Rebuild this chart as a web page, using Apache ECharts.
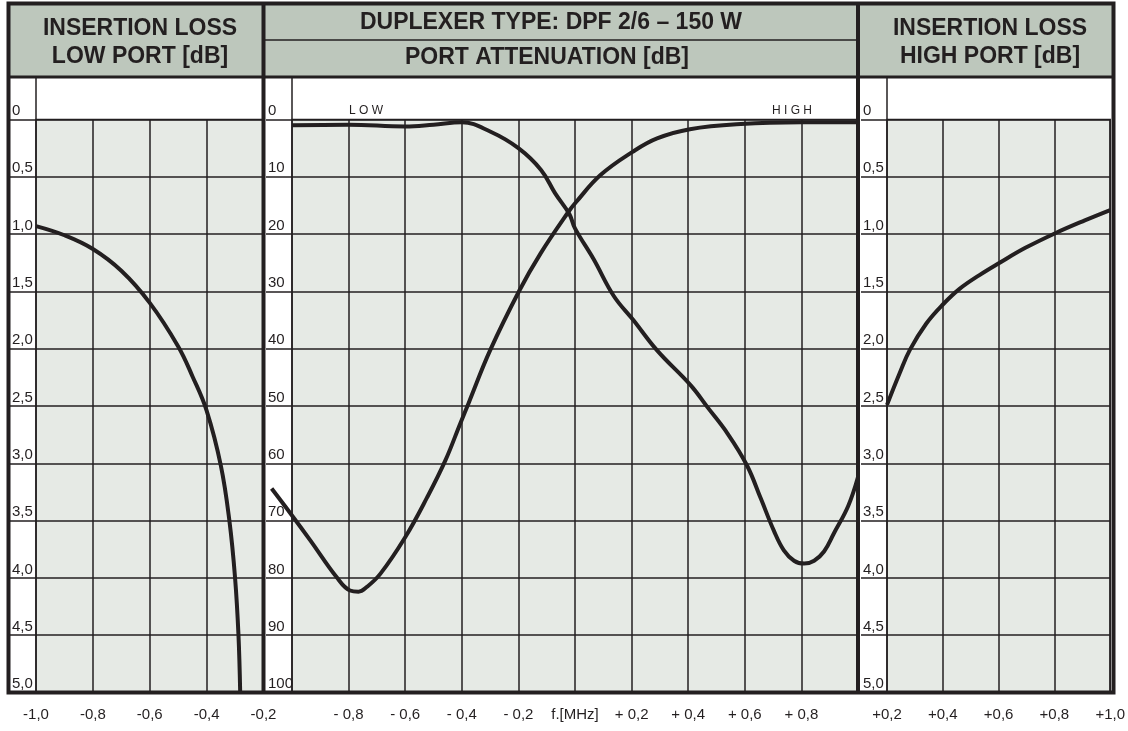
<!DOCTYPE html>
<html>
<head>
<meta charset="utf-8">
<title>Duplexer DPF 2/6 - 150 W</title>
<script src="https://cdn.jsdelivr.net/npm/echarts@6.0.0/dist/echarts.min.js"></script>
<style>
  html, body { margin: 0; padding: 0; background: #fff; }
  #chart { width: 1128px; height: 731px; }
</style>
</head>
<body>
<div id="chart"></div>
<script>
// frequency offset in MHz, level in dB
var lowLossFreq = [-1.0, -0.9, -0.8, -0.7, -0.6, -0.5, -0.45, -0.4, -0.35, -0.32, -0.30, -0.288, -0.282]
var lowLossDb = [0.93, 1.01, 1.13, 1.32, 1.6, 1.98, 2.24, 2.54, 3.02, 3.5, 4.0, 4.5, 5.0]

var lowAttFreq = [-1.0, -0.8, -0.6, -0.5, -0.4, -0.3, -0.2, -0.12, -0.07, -0.02, 0.0, 0.066, 0.137, 0.206, 0.29, 0.409, 0.468, 0.539, 0.607, 0.657, 0.703, 0.738, 0.774, 0.81, 0.845, 0.88, 0.915, 0.965, 1.0]
var lowAttDb = [1.0, 0.9, 1.2, 0.9, 0.5, 2.1, 5.0, 8.8, 12.9, 16.5, 19.0, 24.4, 30.8, 35.0, 40.3, 46.4, 50.2, 54.8, 60.3, 66.2, 71.8, 75.2, 77.0, 77.5, 77.0, 75.4, 72.2, 67.5, 62.4]

// the high curve starts a little left of -1,0 (over the label column)
var highAttFreq = [-1.072, -1.0, -0.936, -0.842, -0.795, -0.765, -0.736, -0.688, -0.6, -0.523, -0.458, -0.405, -0.376, -0.3, -0.196, -0.122, -0.023, 0.004, 0.09, 0.205, 0.29, 0.406, 0.586, 0.8, 1.0]
var highAttDb = [64.4, 69.1, 73.4, 79.9, 82.2, 82.4, 81.6, 79.3, 72.9, 66.0, 59.5, 53.0, 49.5, 40.3, 29.8, 23.4, 16.1, 14.4, 9.7, 5.6, 3.3, 1.7, 0.8, 0.5, 0.5]

var highLossFreq = [0.2, 0.246, 0.282, 0.341, 0.402, 0.459, 0.53, 0.604, 0.696, 0.805, 0.909, 1.0]
var highLossDb = [2.49, 2.21, 2.01, 1.78, 1.61, 1.48, 1.36, 1.25, 1.12, 0.99, 0.88, 0.79]

var headerTitles = ['INSERTION LOSS', 'LOW PORT [dB]', 'DUPLEXER TYPE: DPF 2/6 \u2013 150 W', 'PORT ATTENUATION [dB]', 'INSERTION LOSS', 'HIGH PORT [dB]']

var ink = '#231f20'
var headBg = '#bdc7bc'
var paper = '#e6eae5'
var labelFont = 'Liberation Sans'

function zip(xs, ys) {
    return xs.map(function (x, i) { return [x, ys[i]] })
}

function comma(v) {
    return Math.abs(v).toFixed(1).replace('.', ',')
}

function lossLabel(v) {
    return v === 0 ? '0' : comma(v)
}

var gridTop = 119.5
var gridH = 573
var midLeft = 292, midWidth = 566, midColLeft = 266
var grids = [
    {left: 36, top: gridTop, width: 227.5, height: gridH},
    {left: midLeft, top: gridTop, width: midWidth, height: gridH},
    {left: 887, top: gridTop, width: 226, height: gridH}
]
// hidden overlay for the middle panel, widened over its label column
var overlayMin = -1 - (midLeft - midColLeft) / (midWidth / 2)

function xAxisFor(idx, min, max, formatter) {
    return {
        gridIndex: idx, type: 'value', min: min, max: max, interval: 0.2,
        axisLine: {show: false, onZero: false}, axisTick: {show: false},
        axisLabel: {margin: 15, fontSize: 15, color: ink, fontFamily: labelFont, formatter: formatter},
        splitLine: {show: true, lineStyle: {color: ink, width: 1.5}}
    }
}

function yAxisFor(idx, max, interval, formatter) {
    return {
        gridIndex: idx, type: 'value', inverse: true, min: 0, max: max, interval: interval,
        axisLine: {show: false, onZero: false},
        axisTick: {show: true, length: 26, lineStyle: {color: ink, width: 1.5}},
        axisLabel: {margin: 24, align: 'left', verticalAlign: 'bottom', padding: [0, 0, 1, 0],
            fontSize: 15, color: ink, fontFamily: labelFont, formatter: formatter},
        splitLine: {show: true, lineStyle: {color: ink, width: 1.5}}
    }
}

function curve(xi, data) {
    return {
        type: 'line', xAxisIndex: xi, yAxisIndex: xi, data: data,
        symbol: 'none', smooth: 0.4,
        lineStyle: {color: ink, width: 4}, z: 5
    }
}

function hLine(x1, x2, y, w) {
    return {type: 'line', shape: {x1: x1, y1: y, x2: x2, y2: y}, style: {stroke: ink, lineWidth: w}, z: 100}
}
function vLine(x, y1, y2, w) {
    return {type: 'line', shape: {x1: x, y1: y1, x2: x, y2: y2}, style: {stroke: ink, lineWidth: w}, z: 100}
}
function title(text, x, y) {
    return {type: 'text', x: x, y: y, z: 101,
        style: {text: text, fill: ink, font: 'bold 23px "Liberation Sans", Arial, sans-serif', align: 'center', verticalAlign: 'middle'}}
}

// sheet frame
var frameL = 8.5, frameR = 1113.5, frameT = 3.5, frameB = 692.5
var div1 = 263.5, div2 = 858, headBottom = 77

var option = {
    animation: false,
    backgroundColor: '#fff',
    grid: grids.map(function (g) {
        return Object.assign({show: true, backgroundColor: paper, borderColor: ink, borderWidth: 1.5}, g)
    }).concat([{left: midColLeft, top: gridTop, width: midWidth + midLeft - midColLeft, height: gridH}]),
    xAxis: [
        xAxisFor(0, -1.0, -0.2, function (v) { return '-' + comma(v) }),
        xAxisFor(1, -1.0, 1.0, function (v) {
            if (Math.abs(v) < 1e-6) return 'f.[MHz]'
            if (Math.abs(v) > 0.99) return ''
            return (v < 0 ? '- ' : '+ ') + comma(v)
        }),
        xAxisFor(2, 0.2, 1.0, function (v) { return '+' + comma(v) }),
        {gridIndex: 3, type: 'value', min: overlayMin, max: 1.0, show: false, splitLine: {show: false}}
    ],
    yAxis: [
        yAxisFor(0, 5, 0.5, lossLabel),
        yAxisFor(1, 100, 10, function (v) { return String(v) }),
        yAxisFor(2, 5, 0.5, lossLabel),
        {gridIndex: 3, type: 'value', inverse: true, min: 0, max: 100, show: false, splitLine: {show: false}}
    ],
    series: [
        curve(0, zip(lowLossFreq, lowLossDb)),
        curve(1, zip(lowAttFreq, lowAttDb)),
        curve(3, zip(highAttFreq, highAttDb)),
        curve(2, zip(highLossFreq, highLossDb))
    ],
    graphic: [
        {type: 'rect', shape: {x: frameL, y: frameT, width: frameR - frameL, height: headBottom - frameT}, style: {fill: headBg}, z: 99},
        hLine(div1, div2, 40, 1.5),
        hLine(frameL, frameR, headBottom, 3),
        vLine(36, headBottom, gridTop, 1.5),
        vLine(292, headBottom, gridTop, 1.5),
        vLine(887, headBottom, gridTop, 1.5),
        vLine(div1, frameT, frameB, 4),
        vLine(div2, frameT, frameB, 4),
        {type: 'rect', shape: {x: frameL, y: frameT, width: frameR - frameL, height: frameB - frameT},
            style: {fill: null, stroke: ink, lineWidth: 4}, z: 100},
        title(headerTitles[0], 140, 29),
        title(headerTitles[1], 140, 57),
        title(headerTitles[2], 551, 23),
        title(headerTitles[3], 547, 58),
        title(headerTitles[4], 990, 29),
        title(headerTitles[5], 990, 57),
        {type: 'text', x: 349, y: 117, z: 101,
            style: {text: 'L O W', fill: ink, font: '12px "Liberation Sans", sans-serif', verticalAlign: 'bottom'}},
        {type: 'text', x: 772, y: 117, z: 101,
            style: {text: 'H I G H', fill: ink, font: '12px "Liberation Sans", sans-serif', verticalAlign: 'bottom'}}
    ]
}

var chart = echarts.init(document.getElementById('chart'), null, {renderer: 'canvas'})
chart.setOption(option)
</script>
</body>
</html>
